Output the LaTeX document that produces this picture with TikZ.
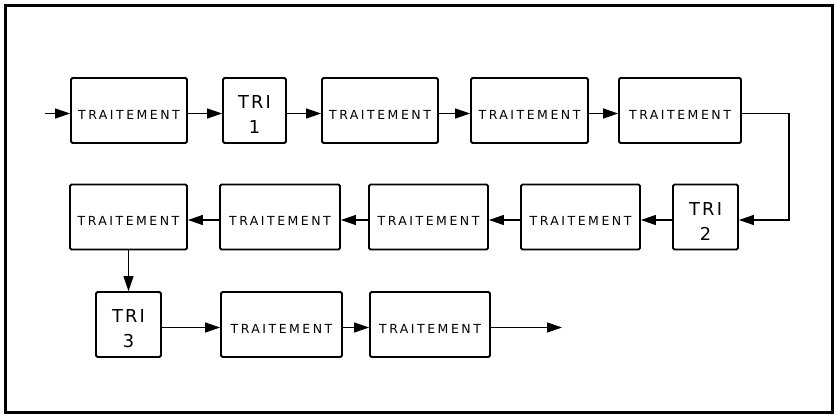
\documentclass[tikz,border=0pt]{standalone}
\usepackage{fontspec}
\setmainfont{DejaVu Sans}
\newfontfamily\boxfont[LetterSpace=20]{DejaVu Sans}
\newfontfamily\trifont[LetterSpace=12.6]{DejaVu Sans}
\usetikzlibrary{arrows.meta}
\begin{document}
\begin{tikzpicture}[x=1pt,y=-1pt,
  stage/.style={draw, line width=1.8pt, rounded corners=1.5pt,
    minimum height=65pt, inner sep=0pt, text height=17pt, text depth=0pt,
    font=\boxfont\fontsize{12.5}{14}\selectfont},
  sortbox/.style={stage, align=center, text height=46pt,
    font=\trifont\fontsize{17.8}{25}\selectfont},
  flow/.style={line width=1.2pt, -{Triangle[length=15pt,width=10pt]}},
]
\useasboundingbox (0,0) rectangle (836,415);
% outer frame
\draw[line width=3pt] (5.5,5.7) rectangle (832.4,412);

% first row
\node[stage, minimum width=116pt] (t1) at (129,110.5) {TRAITEMENT};
\node[sortbox, minimum width=63pt] (s1) at (254.5,110.5) {TRI\\1};
\node[stage, minimum width=116pt] (t2) at (380,110.5) {TRAITEMENT};
\node[stage, minimum width=117pt] (t3) at (529.5,110.5) {TRAITEMENT};
\node[stage, minimum width=122pt] (t4) at (680,110.5) {TRAITEMENT};

% second row (runs right to left)
\node[sortbox, minimum width=65pt] (s2) at (705.5,217) {TRI\\2};
\node[stage, minimum width=119pt] (t8) at (580.5,217) {TRAITEMENT};
\node[stage, minimum width=119pt] (t7) at (428.5,217) {TRAITEMENT};
\node[stage, minimum width=120pt] (t6) at (280,217) {TRAITEMENT};
\node[stage, minimum width=117pt] (t5) at (128.5,217) {TRAITEMENT};

% third row
\node[sortbox, minimum width=65pt] (s3) at (128.5,324.5) {TRI\\3};
\node[stage, minimum width=121pt] (t9) at (281.5,324.5) {TRAITEMENT};
\node[stage, minimum width=120pt] (t10) at (430,324.5) {TRAITEMENT};

\coordinate (in) at (45,113.5);
\coordinate (out) at (562,327.5);

% connectors
\draw[flow] (in) -- ([yshift=-3pt]t1.west);
\draw[flow] ([yshift=-3pt]t1.east) -- ([yshift=-3pt]s1.west);
\draw[flow] ([yshift=-3pt]s1.east) -- ([yshift=-3pt]t2.west);
\draw[flow] ([yshift=-3pt]t2.east) -- ([yshift=-3pt]t3.west);
\draw[flow] ([yshift=-3pt]t3.east) -- ([yshift=-3pt]t4.west);
\draw[flow] ([yshift=-3pt]t4.east) -- ++(47,0) |- ([yshift=-3pt]s2.east);
\draw[flow] ([yshift=-3pt]s2.west) -- ([yshift=-3pt]t8.east);
\draw[flow] ([yshift=-3pt]t8.west) -- ([yshift=-3pt]t7.east);
\draw[flow] ([yshift=-3pt]t7.west) -- ([yshift=-3pt]t6.east);
\draw[flow] ([yshift=-3pt]t6.west) -- ([yshift=-3pt]t5.east);
\draw[flow] (t5.south) -- (s3.north);
\draw[flow] ([yshift=-3pt]s3.east) -- ([yshift=-3pt]t9.west);
\draw[flow] ([yshift=-3pt]t9.east) -- ([yshift=-3pt]t10.west);
\draw[flow] ([yshift=-3pt]t10.east) -- (out);
\end{tikzpicture}
\end{document}
